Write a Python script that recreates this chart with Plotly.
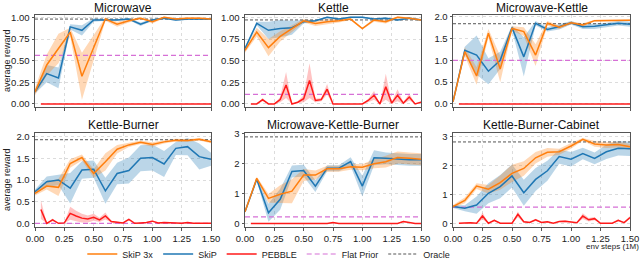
import plotly.graph_objects as go

# ---------------- data ----------------
x_skip = [0.0, 0.1, 0.2, 0.3, 0.4, 0.5, 0.6, 0.7, 0.8, 0.9, 1.0, 1.1, 1.2, 1.3, 1.4, 1.5]
x_pebble = [0.05, 0.1, 0.15, 0.2, 0.25, 0.3, 0.35, 0.4, 0.45, 0.5, 0.55, 0.6, 0.65, 0.7, 0.75,
            0.8, 0.85, 0.9, 0.95, 1.0, 1.05, 1.1, 1.15, 1.2, 1.25, 1.3, 1.35, 1.4, 1.45, 1.5]
xticks = [0.0, 0.25, 0.5, 0.75, 1.0, 1.25, 1.5]

titles = ["Microwave", "Kettle", "Microwave-Kettle",
          "Kettle-Burner", "Microwave-Kettle-Burner", "Kettle-Burner-Cabinet"]

# SkiP 3x
skip3_mw = [0.14, 0.45, 0.64, 0.83, 0.32, 0.65, 0.98, 0.92, 0.96, 0.99, 0.95, 1.0, 0.98, 0.99, 0.99, 0.98]
skip3_mw_sd = [0.04, 0.12, 0.17, 0.05, 0.27, 0.15, 0.02, 0.03, 0.02, 0.01, 0.02, 0.01, 0.01, 0.01, 0.01, 0.01]
skip3_k = [0.62, 0.83, 0.65, 0.78, 0.87, 0.96, 0.93, 0.95, 0.96, 0.98, 0.87, 0.97, 0.95, 1.0, 0.99, 0.97]
skip3_k_sd = [0.03, 0.05, 0.1, 0.06, 0.04, 0.02, 0.03, 0.03, 0.02, 0.01, 0.01, 0.02, 0.02, 0.01, 0.01, 0.01]
skip3_mk = [0.05, 1.2, 0.64, 1.62, 0.8, 1.73, 1.66, 1.12, 1.85, 1.76, 1.86, 1.81, 1.91, 1.91, 1.92, 1.92]
skip3_mk_sd = [0.02, 0.1, 0.2, 0.1, 0.3, 0.05, 0.1, 0.25, 0.05, 0.04, 0.03, 0.04, 0.02, 0.02, 0.02, 0.02]
skip3_kb = [0.69, 0.86, 0.83, 1.38, 1.52, 1.15, 1.42, 1.71, 1.81, 1.87, 1.82, 1.88, 1.92, 1.91, 1.94, 1.88]
skip3_kb_sd = [0.05, 0.08, 0.2, 0.1, 0.07, 0.1, 0.2, 0.1, 0.05, 0.04, 0.05, 0.04, 0.03, 0.03, 0.03, 0.03]
skip3_mkb = [0.39, 1.51, 0.84, 0.98, 1.08, 1.62, 1.62, 1.83, 1.83, 1.9, 1.88, 2.0, 2.07, 2.21, 2.18, 2.15]
skip3_mkb_sd = [0.03, 0.05, 0.15, 0.3, 0.4, 0.2, 0.15, 0.1, 0.1, 0.1, 0.1, 0.15, 0.2, 0.2, 0.2, 0.2]
skip3_kbc = [0.58, 0.79, 1.29, 1.18, 1.41, 1.73, 1.9, 2.27, 2.46, 2.48, 2.68, 2.91, 2.75, 2.71, 2.73, 2.65]
skip3_kbc_sd = [0.05, 0.1, 0.1, 0.15, 0.25, 0.3, 0.25, 0.2, 0.15, 0.1, 0.1, 0.05, 0.1, 0.1, 0.1, 0.1]

# SkiP
skip_mw = [0.14, 0.35, 0.30, 0.89, 0.85, 0.97, 0.97, 0.97, 0.98, 0.92, 0.97, 0.99, 0.97, 0.98, 0.98, 0.98]
skip_mw_sd = [0.02, 0.1, 0.12, 0.03, 0.06, 0.02, 0.01, 0.01, 0.01, 0.02, 0.01, 0.01, 0.01, 0.01, 0.01, 0.01]
skip_k = [0.64, 0.93, 0.85, 0.87, 0.88, 0.95, 0.96, 1.0, 0.98, 1.0, 1.0, 0.98, 0.99, 0.97, 0.99, 0.97]
skip_k_sd = [0.02, 0.02, 0.1, 0.1, 0.08, 0.02, 0.01, 0.01, 0.01, 0.01, 0.01, 0.01, 0.01, 0.01, 0.01, 0.01]
skip_mk = [0.05, 1.23, 1.12, 0.75, 1.0, 1.75, 1.08, 1.85, 1.71, 1.77, 1.86, 1.77, 1.78, 1.81, 1.85, 1.83]
skip_mk_sd = [0.02, 0.08, 0.45, 0.3, 0.2, 0.05, 0.45, 0.05, 0.05, 0.06, 0.04, 0.05, 0.06, 0.05, 0.05, 0.06]
skip_kb = [0.73, 0.96, 1.0, 0.81, 1.23, 1.25, 0.75, 1.15, 1.22, 1.5, 1.52, 1.37, 1.73, 1.77, 1.54, 1.48]
skip_kb_sd = [0.05, 0.12, 0.12, 0.35, 0.2, 0.2, 0.3, 0.25, 0.3, 0.3, 0.3, 0.3, 0.15, 0.2, 0.3, 0.15]
skip_mkb = [0.39, 1.48, 0.36, 0.81, 1.74, 1.77, 1.25, 1.85, 1.85, 2.07, 1.25, 2.2, 2.18, 2.15, 2.13, 2.13]
skip_mkb_sd = [0.03, 0.05, 0.3, 0.35, 0.2, 0.2, 0.2, 0.1, 0.1, 0.15, 0.35, 0.25, 0.2, 0.2, 0.2, 0.2]
skip_kbc = [0.58, 0.52, 0.63, 1.04, 1.27, 1.64, 1.06, 1.52, 1.82, 2.31, 2.22, 2.42, 2.25, 2.48, 2.6, 2.58]
skip_kbc_sd = [0.05, 0.1, 0.3, 0.35, 0.4, 0.4, 0.45, 0.4, 0.35, 0.25, 0.25, 0.2, 0.2, 0.25, 0.25, 0.25]

# PEBBLE
pebble_mw = [0.0] * 30
pebble_mw_sd = [0.0] * 30
pebble_k = [0, 0, 0.05, 0, 0, 0.05, 0.22, 0.0, 0.02, 0.06, 0.27, 0.04, 0.05, 0.17, 0,
            0, 0, 0, 0, 0, 0.04, 0.1, 0, 0.2, 0.01, 0.1, 0.01, 0.08, 0, 0.02]
pebble_k_sd = [0, 0, 0.02, 0, 0, 0.03, 0.15, 0, 0.01, 0.04, 0.2, 0.02, 0.02, 0.06, 0,
               0, 0, 0, 0, 0, 0.02, 0.05, 0, 0.15, 0.01, 0.07, 0.01, 0.04, 0, 0.01]
pebble_mk = [0.0] * 30
pebble_mk_sd = [0.0] * 30
pebble_kb = [0.32, 0, 0.08, 0, 0.01, 0.23, 0.17, 0.12, 0.1, 0.14, 0.08, 0.17, 0.04, 0.02, 0.01,
             0.09, 0, 0.01, 0.02, 0.05, 0.01, 0.02, 0.02, 0.01, 0, 0.02, 0, 0, 0, 0]
pebble_kb_sd = [0.22, 0, 0.03, 0, 0.01, 0.15, 0.12, 0.1, 0.08, 0.08, 0.05, 0.08, 0.02, 0.02, 0.01,
                0.02, 0, 0.01, 0.01, 0.02, 0.01, 0.01, 0.01, 0.01, 0, 0.01, 0, 0, 0, 0]
pebble_mkb = [0, 0, 0, 0, 0, 0, 0, 0, 0, 0, 0, 0, 0, 0, 0.03,
              0, 0, 0, 0, 0, 0, 0, 0, 0, 0, 0, 0.06, 0.02, 0, 0]
pebble_mkb_sd = [0, 0, 0, 0, 0, 0, 0, 0, 0, 0, 0, 0, 0, 0, 0.02,
                 0, 0, 0, 0, 0, 0, 0, 0, 0, 0, 0, 0.03, 0.01, 0, 0]
pebble_kbc = [0, 0.02, 0.02, 0, 0.25, 0, 0.1, 0, 0, 0, 0.31, 0.05, 0.03, 0.12, 0.03,
              0.05, 0, 0.06, 0.07, 0.05, 0.02, 0.25, 0.12, 0.16, 0, 0, 0, 0.1, 0.02, 0.2]
pebble_kbc_sd = [0, 0.01, 0.01, 0, 0.12, 0, 0.04, 0, 0, 0, 0.1, 0.03, 0.02, 0.04, 0.02,
                 0.02, 0, 0.02, 0.03, 0.02, 0.01, 0.1, 0.06, 0.06, 0, 0, 0, 0.04, 0.01, 0.05]

oracle = [0.98, 0.97, 1.84, 1.93, 2.9, 2.82]
flat_prior = [0.56, 0.11, 1.0, 0.0, 0.22, 0.56]

skip3_all = [(skip3_mw, skip3_mw_sd), (skip3_k, skip3_k_sd), (skip3_mk, skip3_mk_sd),
             (skip3_kb, skip3_kb_sd), (skip3_mkb, skip3_mkb_sd), (skip3_kbc, skip3_kbc_sd)]
skip_all = [(skip_mw, skip_mw_sd), (skip_k, skip_k_sd), (skip_mk, skip_mk_sd),
            (skip_kb, skip_kb_sd), (skip_mkb, skip_mkb_sd), (skip_kbc, skip_kbc_sd)]
pebble_all = [(pebble_mw, pebble_mw_sd), (pebble_k, pebble_k_sd), (pebble_mk, pebble_mk_sd),
              (pebble_kb, pebble_kb_sd), (pebble_mkb, pebble_mkb_sd), (pebble_kbc, pebble_kbc_sd)]

yticks_all = [[0, 0.25, 0.5, 0.75, 1.0], [0, 0.25, 0.5, 0.75, 1.0], [0, 0.5, 1.0, 1.5, 2.0],
              [0, 0.5, 1.0, 1.5, 2.0], [0, 1, 2, 3], [0, 1, 2, 3]]
yfmt_all = [".2f", ".2f", ".1f", ".1f", "d", "d"]

# ---------------- layout / styling ----------------
W, H = 640, 260
col_px = [(35, 211), (245, 421), (453, 630)]
row_px = [(15, 107), (133, 227)]
title_px = [7.5, 125]
yranges = [[-0.035, 1.027], [-0.035, 1.027], [-0.07, 2.04],
           [-0.085, 2.085], [-0.12, 3.03], [-0.13, 3.13]]

C_ORANGE = "#ff7f0e"
C_BLUE = "#1f77b4"
C_RED = "#ff1a1a"
C_FLAT = "#d670d6"
C_ORACLE = "#555555"
FONT = "Liberation Sans, Arial, sans-serif"

fig = go.Figure()


def band(xs, m, s, color, xa, ya):
    up = [a + b for a, b in zip(m, s)]
    lo = [max(a - b, 0.0) if min(m) >= 0 else a - b for a, b in zip(m, s)]
    fig.add_trace(go.Scatter(x=list(xs) + list(xs)[::-1], y=up + lo[::-1], fill="toself",
                             fillcolor=color, line=dict(width=0), mode="lines",
                             hoverinfo="skip", showlegend=False, xaxis=xa, yaxis=ya))


annotations = []
for i in range(6):
    r, c = divmod(i, 3)
    idx = "" if i == 0 else str(i + 1)
    xa, ya = "x" + idx, "y" + idx
    show = (i == 0)

    m, s = skip_all[i]
    band(x_skip, m, s, "rgba(31,119,180,0.30)", xa, ya)
    m3, s3 = skip3_all[i]
    band(x_skip, m3, s3, "rgba(255,127,14,0.30)", xa, ya)
    mp, sp = pebble_all[i]
    band(x_pebble, mp, sp, "rgba(255,40,40,0.28)", xa, ya)

    span = [x_skip[0], x_skip[-1]]
    fig.add_trace(go.Scatter(x=span, y=[flat_prior[i]] * 2, mode="lines", name="Flat Prior",
                             line=dict(color=C_FLAT, width=1.2, dash="5px,3px"),
                             showlegend=show, legendrank=4, xaxis=xa, yaxis=ya))
    fig.add_trace(go.Scatter(x=span, y=[oracle[i]] * 2, mode="lines", name="Oracle",
                             line=dict(color=C_ORACLE, width=1.0, dash="3px,2px"),
                             showlegend=show, legendrank=5, xaxis=xa, yaxis=ya))
    fig.add_trace(go.Scatter(x=x_pebble, y=mp, mode="lines", name="PEBBLE",
                             line=dict(color=C_RED, width=1.5),
                             showlegend=show, legendrank=3, xaxis=xa, yaxis=ya))
    fig.add_trace(go.Scatter(x=x_skip, y=m, mode="lines", name="SkiP",
                             line=dict(color=C_BLUE, width=1.5),
                             showlegend=show, legendrank=2, xaxis=xa, yaxis=ya))
    fig.add_trace(go.Scatter(x=x_skip, y=m3, mode="lines", name="SkiP 3x",
                             line=dict(color=C_ORANGE, width=1.5),
                             showlegend=show, legendrank=1, xaxis=xa, yaxis=ya))

    x0, x1 = col_px[c]
    y0, y1 = row_px[r]
    xdom = [x0 / W, x1 / W]
    ydom = [(H - y1) / H, (H - y0) / H]
    axis_common = dict(showline=True, mirror=True, linecolor="#555555", linewidth=1,
                       ticks="outside", ticklen=2.5, tickcolor="#555555",
                       showgrid=True, gridcolor="#dcdcdc", griddash="dot", gridwidth=1,
                       zeroline=False, tickfont=dict(size=9.5, color="#222222", family=FONT))
    fig.layout["xaxis" + idx] = dict(domain=xdom, range=[0, 1.5], tickvals=xticks,
                                     tickformat=".2f", showticklabels=(r == 1),
                                     anchor=ya, automargin=False, **axis_common)
    fig.layout["yaxis" + idx] = dict(domain=ydom, range=yranges[i], tickvals=yticks_all[i],
                                     tickformat=yfmt_all[i], anchor=xa, automargin=False,
                                     **axis_common)
    annotations.append(dict(text=titles[i], x=(x0 + x1) / 2 / W, y=(H - title_px[r]) / H,
                            xref="paper", yref="paper", xanchor="center", yanchor="middle",
                            showarrow=False, borderpad=0,
                            font=dict(size=12, color="#111111", family=FONT)))

for r in range(2):
    y0, y1 = row_px[r]
    annotations.append(dict(text="average reward", x=7 / W, y=(H - (y0 + y1) / 2) / H,
                            xref="paper", yref="paper", xanchor="center", yanchor="middle",
                            textangle=-90, showarrow=False,
                            font=dict(size=9, color="#222222", family=FONT)))
annotations.append(dict(text="env steps (1M)", x=1.0, y=(H - 246) / H, xref="paper",
                        yref="paper", xanchor="right", yanchor="middle", showarrow=False,
                        borderpad=0, font=dict(size=8, color="#222222", family=FONT)))

fig.update_layout(width=W, height=H,
                  margin=dict(l=0, r=0, t=0, b=0, pad=0, autoexpand=False),
                  paper_bgcolor="white", plot_bgcolor="white",
                  annotations=annotations,
                  legend=dict(orientation="h", x=0.42, y=(H - 254) / H, xanchor="center",
                              yanchor="middle", font=dict(size=9, color="#222222", family=FONT),
                              bgcolor="rgba(0,0,0,0)", tracegroupgap=0, itemwidth=30),
                  font=dict(family=FONT))

fig.write_html("out.html", config={"displayModeBar": False},
               post_script="document.body.style.margin='0';document.body.style.padding='0';")
